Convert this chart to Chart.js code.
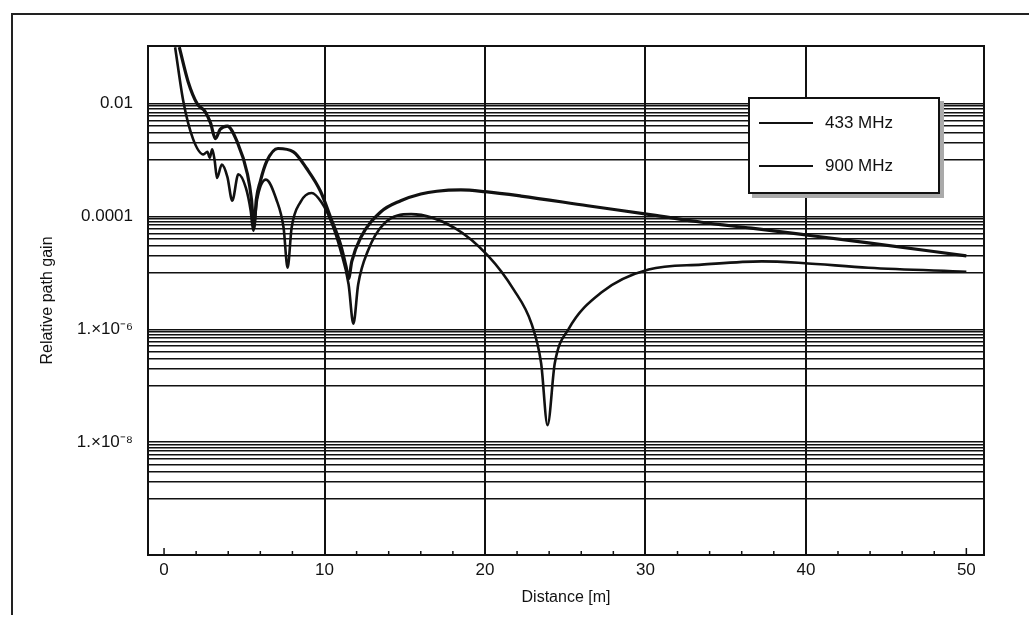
<!DOCTYPE html>
<html lang="en">
<head>
<meta charset="UTF-8">
<title>Relative path gain vs distance</title>
<script src="https://cdn.jsdelivr.net/npm/chart.js"></script>
<style>
  html, body { margin: 0; padding: 0; background: #fff; }
  body {
    width: 1029px;
    height: 622px;
    position: relative;
    overflow: hidden;
    font-family: "Liberation Sans", Arial, Helvetica, sans-serif;
    color: #111;
  }
  #frame {
    position: absolute;
    left: 11px;
    top: 13px;
    width: 1040px;
    height: 600px;
    border-left: 2px solid #222;
    border-top: 2px solid #222;
  }
  #chart { position: absolute; left: 0; top: 0; }
  .legend {
    position: absolute;
    left: 748px;
    top: 97px;
    width: 188px;
    height: 93px;
    border: 2px solid #111;
    background: #fff;
    box-shadow: 4px 4px 0 #aaa;
  }
  .legend .row {
    position: absolute;
    left: 9px;
    height: 20px;
    display: flex;
    align-items: center;
    font-size: 17px;
    white-space: nowrap;
  }
  .legend .swatch {
    width: 54px;
    height: 0;
    border-top: 2px solid #111;
    margin-right: 12px;
  }
</style>
</head>
<body>
<div id="frame"></div>
<canvas id="chart" width="1029" height="622"></canvas>
<div class="legend" id="legend"></div>

<script>
// Distance [m] and relative path gain
const distance433 = [0.95, 1.5, 2.06, 2.56, 2.9, 3.2, 3.5, 3.94, 4.56, 5.2, 5.45, 5.6, 5.75, 6.0, 6.4, 7.1, 8.06, 8.9, 9.75, 10.4, 11.0, 11.35, 11.5, 11.7, 12.25, 13.5, 14.75, 16, 17, 18.5, 20, 22.25, 26.4, 30.4, 33.5, 36.6, 39.75, 43.9, 50]
const gain433 = [0.1, 0.0245, 0.01, 0.0072, 0.0045, 0.0024, 0.0035, 0.004, 0.0021, 5.6e-4, 2e-4, 6.3e-5, 2e-4, 4.2e-4, 9.5e-4, 1.6e-3, 1.4e-3, 7e-4, 2.8e-4, 9.3e-5, 3.2e-5, 1.26e-5, 7.9e-6, 1.6e-5, 4.2e-5, 1.2e-4, 1.9e-4, 2.5e-4, 2.8e-4, 2.95e-4, 2.75e-4, 2.3e-4, 1.55e-4, 1.07e-4, 7.9e-5, 6.2e-5, 4.8e-5, 3.4e-5, 2.0e-5]

const distance900 = [0.69, 1.2, 1.8, 2.45, 2.7, 2.85, 3.0, 3.15, 3.3, 3.6, 3.95, 4.25, 4.63, 5.1, 5.4, 5.56, 5.8, 6.35, 7.0, 7.45, 7.7, 7.95, 8.5, 9.2, 9.8, 10.4, 11.0, 11.5, 11.8, 12.1, 12.7, 13.7, 15.4, 18.1, 20.2, 21.8, 22.9, 23.5, 23.9, 24.35, 25.2, 27.25, 30.2, 33.5, 37.25, 39.75, 43.9, 50]
const gain900 = [0.1, 0.011, 0.0024, 0.00126, 0.0014, 0.0011, 0.00155, 0.001, 4.8e-4, 8.3e-4, 5e-4, 1.9e-4, 5.6e-4, 3.2e-4, 1.26e-4, 5.6e-5, 2e-4, 4.5e-4, 2e-4, 6.3e-5, 1.23e-5, 6.3e-5, 1.8e-4, 2.6e-4, 1.8e-4, 8.3e-5, 2.5e-5, 6.3e-6, 1.26e-6, 6.3e-6, 2.45e-5, 7.4e-5, 1.1e-4, 6.3e-5, 2e-5, 5e-6, 1.26e-6, 2.5e-7, 2e-8, 2.5e-7, 1e-6, 4.5e-6, 1.15e-5, 1.4e-5, 1.6e-5, 1.5e-5, 1.23e-5, 1.05e-5]

const seriesLabels = ['433 MHz', '900 MHz']

// Axis ticks
const xLabelTicks = [0, 10, 20, 30, 40, 50]
const xGridTicks = [10, 20, 30, 40]
const xMinorTicks = [2, 4, 6, 8, 12, 14, 16, 18, 22, 24, 26, 28, 32, 34, 36, 38, 42, 44, 46, 48]
const yMajorTicks = [1e-2, 1e-4, 1e-6, 1e-8]
const yMajorLabels = ['0.01', '0.0001', '1.\u00d710\u207b\u2076', '1.\u00d710\u207b\u2078']
const yMinorSteps = [9, 8, 7, 6, 5, 4, 3, 2, 1]

const ink = '#111'
const tickFont = { family: '"Liberation Sans", Arial, Helvetica, sans-serif', size: 17 }
const titleFont = { family: '"Liberation Sans", Arial, Helvetica, sans-serif', size: 16 }

function toPoints(xs, ys) {
  return xs.map((x, i) => ({ x, y: ys[i] }))
}

// every major decade gets a cluster of gridlines just below it
const yGridValues = []
yMajorTicks.forEach(m => {
  yGridValues.push(m)
  yMinorSteps.forEach(k => yGridValues.push(m * k / 10))
})

function majorLabel(value) {
  const i = yMajorTicks.findIndex(m => Math.abs(Math.log10(m) - Math.log10(value)) < 1e-6)
  return i >= 0 ? yMajorLabels[i] : ''
}

// frame on top/right and the small inner tick marks on the x axis
const plotFrame = {
  id: 'plotFrame',
  afterDraw(chart) {
    const { ctx, chartArea: a } = chart
    const x = chart.scales.x
    ctx.save()
    ctx.strokeStyle = ink
    ctx.lineWidth = 2
    ctx.strokeRect(a.left, a.top, a.right - a.left, a.bottom - a.top)
    ctx.lineWidth = 1.5
    xMinorTicks.forEach(v => {
      const px = x.getPixelForValue(v)
      ctx.beginPath()
      ctx.moveTo(px, a.bottom)
      ctx.lineTo(px, a.bottom - 4)
      ctx.stroke()
    })
    ;[0, 50].forEach(v => {
      const px = x.getPixelForValue(v)
      ctx.beginPath()
      ctx.moveTo(px, a.bottom)
      ctx.lineTo(px, a.bottom - 7)
      ctx.stroke()
    })
    ctx.restore()
  }
}

const chart = new Chart(document.getElementById('chart'), {
  type: 'line',
  data: {
    datasets: [
      {
        label: seriesLabels[0],
        data: toPoints(distance433, gain433),
        borderColor: ink,
        borderWidth: 3.2,
        pointRadius: 0,
        cubicInterpolationMode: 'monotone'
      },
      {
        label: seriesLabels[1],
        data: toPoints(distance900, gain900),
        borderColor: ink,
        borderWidth: 2.6,
        pointRadius: 0,
        cubicInterpolationMode: 'monotone'
      }
    ]
  },
  options: {
    responsive: false,
    animation: false,
    devicePixelRatio: 1,
    layout: { padding: { left: 30, top: 46, right: 45, bottom: 7 } },
    plugins: {
      legend: { display: false },
      tooltip: { enabled: false }
    },
    scales: {
      x: {
        type: 'linear',
        min: -1,
        max: 51.1,
        afterBuildTicks: scale => { scale.ticks = xLabelTicks.map(v => ({ value: v })) },
        afterFit: scale => { scale.height = 60 },
        grid: {
          drawTicks: false,
          lineWidth: 2,
          color: c => (c.tick && xGridTicks.includes(c.tick.value)) ? ink : 'rgba(0,0,0,0)'
        },
        border: { display: true, color: ink, width: 2 },
        ticks: {
          color: ink,
          font: tickFont,
          padding: 5,
          maxRotation: 0,
          autoSkip: false
        },
        title: {
          display: true,
          text: 'Distance [m]',
          color: ink,
          font: titleFont,
          padding: { top: 0, bottom: 8 }
        }
      },
      y: {
        type: 'logarithmic',
        min: 1e-10,
        max: 0.105,
        afterBuildTicks: scale => { scale.ticks = yGridValues.map(v => ({ value: v })) },
        afterFit: scale => { scale.width = 118 },
        grid: {
          drawTicks: false,
          lineWidth: 1.6,
          color: ink
        },
        border: { display: true, color: ink, width: 2 },
        ticks: {
          color: ink,
          font: tickFont,
          padding: 15,
          autoSkip: false,
          callback: value => majorLabel(value)
        },
        title: {
          display: true,
          text: 'Relative path gain',
          color: ink,
          font: titleFont,
          padding: { top: 8, bottom: 0 }
        }
      }
    }
  },
  plugins: [plotFrame]
})

// legend box, built from the datasets
const legendTops = [14, 57]
document.getElementById('legend').innerHTML = chart.data.datasets.map((ds, i) =>
  `<div class="row" style="top:${legendTops[i]}px"><span class="swatch"></span>${ds.label}</div>`
).join('')
</script>
</body>
</html>
